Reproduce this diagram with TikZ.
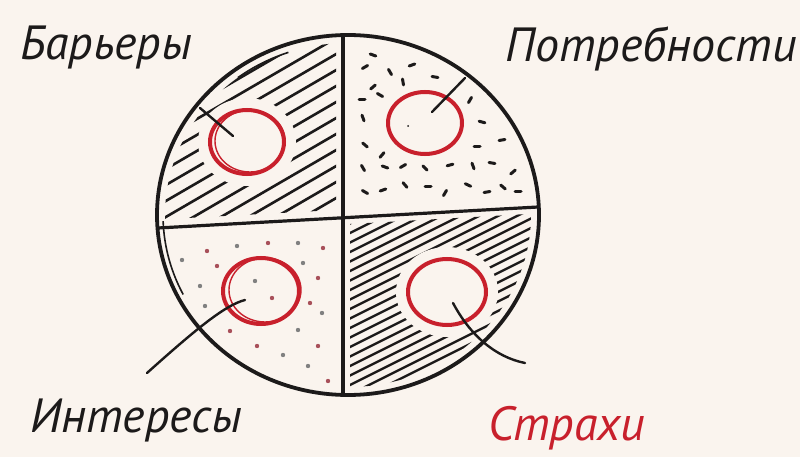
\documentclass[tikz,border=0pt]{standalone}
\usepackage{fontspec}
\setmainfont{PT Sans}
\usetikzlibrary{shapes.geometric}
\definecolor{bg}{HTML}{FAF4EE}
\definecolor{ink}{HTML}{1C1A1A}
\definecolor{redink}{HTML}{C8202C}
\definecolor{dotred}{HTML}{A8505A}
\begin{document}
\begin{tikzpicture}[x=1pt,y=-1pt,
  wordtxt/.style={font=\itshape\fontsize{48}{48}\selectfont, text=ink, inner sep=0pt, anchor=base west},
  ring/.style={draw=redink, line width=4pt, shape=ellipse, inner sep=0pt},
  hatchA/.style={ink, line width=2.6pt, line cap=round},
  hatchB/.style={ink, line width=2.4pt, line cap=round},
  leader/.style={ink, line width=2.4pt, line cap=round},
  speck/.style={ink, line width=3pt, line cap=round},
  border/.style={ink, line width=3.8pt}]
\useasboundingbox (0,0) rectangle (800,457);
\fill[bg] (0,0) rectangle (800,457);
% top-left hatch
\begin{scope}
  \clip (348,215) ellipse (183 and 172);
  \clip (150,20) -- (336,20) -- (336,210) -- (150,220) -- cycle;
  \foreach \c in {40,56,...,540} \draw[hatchA] (140,\c) -- (350,{\c-122});
\end{scope}
\fill[bg] (247,142) ellipse (49 and 44);
% bottom-right hatch
\begin{scope}
  \clip (348,215) ellipse (183 and 172);
  \clip (350,224) -- (545,213) -- (545,420) -- (350,420) -- cycle;
  \foreach \c in {200,209.5,...,580} \draw[hatchB] (340,\c) -- (550,{\c-105});
\end{scope}
\fill[bg] (447,292) ellipse (51 and 45);
% top-right marks
\foreach \x/\y/\a in {373/55/20,365/67/-30,390/72/60,412/65/-20,435/77/10,403/82/80,373/87/-40,380/95/30,362/100/0,470/100/-60,363/118/70,482/122/15,502/140/-10,365/145/40,477/147/0,382/155/-50,363/168/60,385/167/20,403/166/-30,425/168/45,450/165/-15,473/166/70,492/163/10,513/172/-40,365/192/30,383/190/-20,405/185/50,428/187/0,445/193/-60,468/185/25,487/192/-10,503/187/40,518/192/0}
  \draw[speck] (\x,\y) ++({-3*cos(\a)},{-3*sin(\a)}) -- ++({6*cos(\a)},{6*sin(\a)});
\fill[ink] (408,126) circle (1pt);
% bottom-left dots
\foreach \x/\y [count=\i] in {182/260,207/251,237/246,268/243,298/243,323/248,200/286,217/266,303/263,318/278,255/281,272/298,205/306,310/303,322/313,230/331,298/330,257/346,283/355,318/346,308/366,328/381}
  {\pgfmathparse{mod(\i,2)==0 ? "dotred" : "gray"}
   \fill[\pgfmathresult] (\x,\y) circle (2.2pt);}
% big circle and dividers
\draw[border] (348,215) ellipse (191 and 180);
\draw[ink, line width=1.6pt] (348,215) ++(233:183 and 172) arc (233:251:183 and 172);
\draw[ink, line width=1.6pt] (348,215) ++(153:185 and 175) arc (153:178:185 and 175);
\draw[border, line width=3.2pt] (343,37) -- (343,393);
\draw[border, line width=3.2pt] (158,228) -- (538,207);
% red rings
\node[ring, minimum width=74pt, minimum height=64pt] (rb) at (247,142) {};
\node[ring, minimum width=74pt, minimum height=62pt] (rp) at (425,123) {};
\node[ring, minimum width=76pt, minimum height=66pt] (ri) at (261,291) {};
\node[ring, minimum width=78pt, minimum height=66pt] (rs) at (447,292) {};
\draw[redink, line width=1.4pt] (250,141) ellipse (35 and 31);
\draw[redink, line width=1.4pt] (265,290) ellipse (36 and 32);
% leaders
\coordinate (lb1) at (200,108); \coordinate (lb2) at (233,136);
\coordinate (lp1) at (465,78);  \coordinate (lp2) at (432,112);
\coordinate (li1) at (245,300); \coordinate (li2) at (147,373);
\coordinate (ls1) at (453,303); \coordinate (ls2) at (525,363);
\draw[leader] (lb1) -- (lb2);
\draw[leader] (lp1) -- (lp2);
\draw[leader] (li1) .. controls (225,305) and (195,330) .. (li2);
\draw[leader] (ls1) .. controls (470,335) and (495,357) .. (ls2);
% labels
\node[wordtxt] (tb) at (20,60) {Барьеры};
\node[wordtxt] (tp) at (505,62) {Потребности};
\node[wordtxt] (ti) at (30,432) {Интересы};
\node[wordtxt, text=redink] (ts) at (488,440) {Страхи};
\end{tikzpicture}
\end{document}
